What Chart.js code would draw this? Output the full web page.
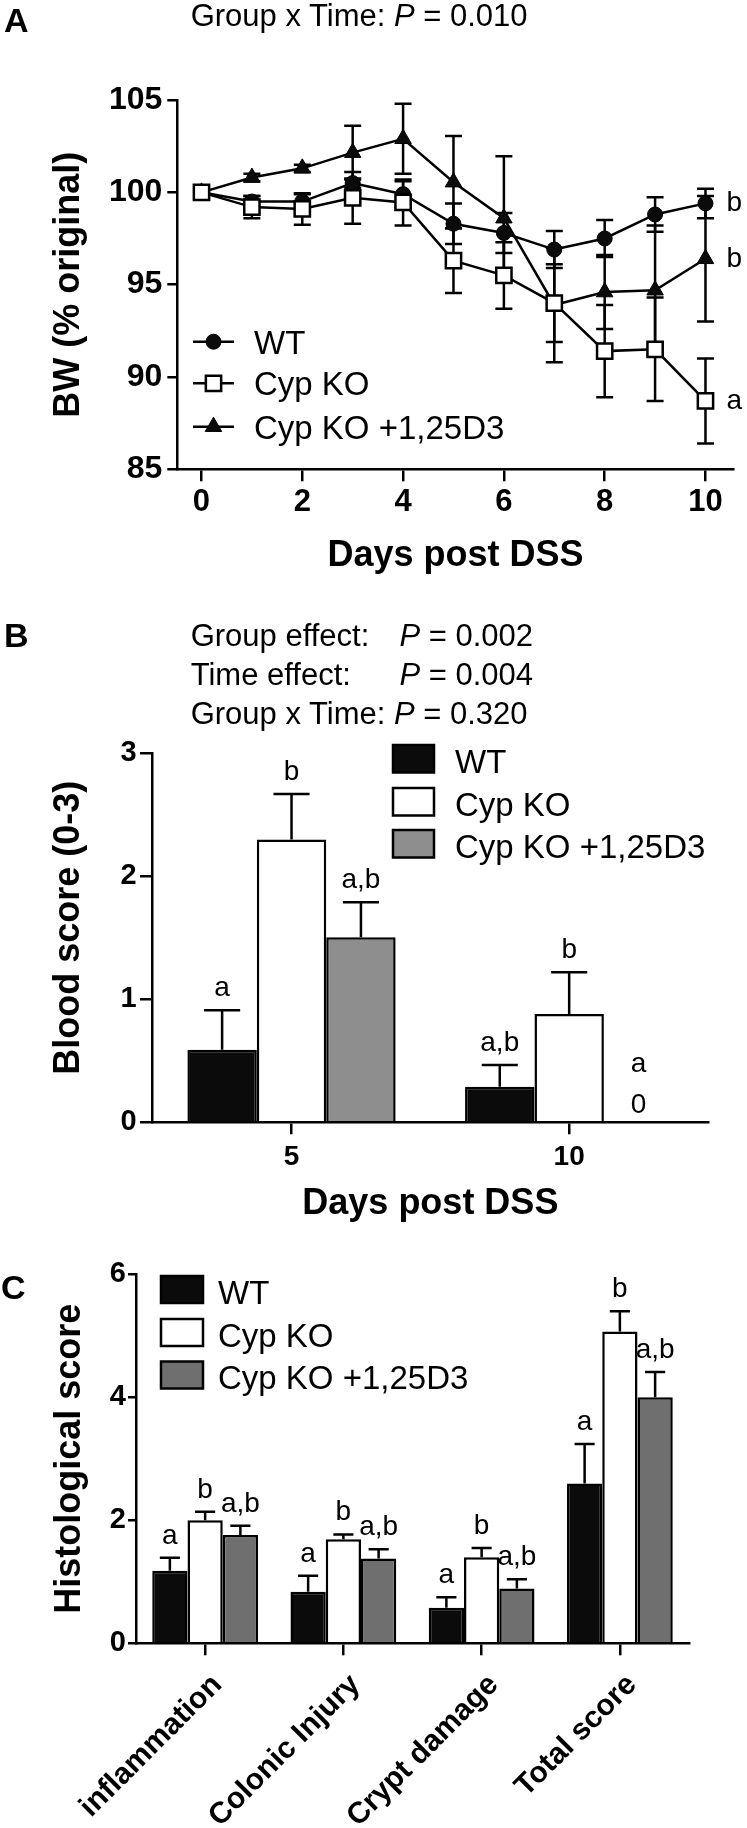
<!DOCTYPE html>
<html><head><meta charset="utf-8">
<script src="https://cdn.jsdelivr.net/npm/chart.js@4.4.1/dist/chart.umd.min.js"></script>
<style>
html,body{margin:0;padding:0;background:#fff;}
body{width:747px;height:1828px;position:relative;overflow:hidden;font-family:'Liberation Sans',Arial,Helvetica,sans-serif;color:#000;}
canvas{position:absolute;left:0;}
.t{position:absolute;white-space:pre;line-height:0;}
.pl{font-size:34px;font-weight:bold;}
.st{font-size:31px;}
</style></head><body>
<canvas id="cA" width="747" height="600" style="top:0px"></canvas>
<canvas id="cB" width="747" height="640" style="top:600px"></canvas>
<canvas id="cC" width="747" height="588" style="top:1240px"></canvas>

<div class="t pl" style="left:4px;top:20px">A</div>
<div class="t st" style="left:190.7px;top:16px">Group x Time: <i>P</i> = 0.010</div>

<div class="t pl" style="left:4px;top:635px">B</div>
<div class="t st" style="left:190.7px;top:636px">Group effect:</div>
<div class="t st" style="left:399.4px;top:636px"><i>P</i> = 0.002</div>
<div class="t st" style="left:190.7px;top:675.3px">Time effect:</div>
<div class="t st" style="left:399.4px;top:675.3px"><i>P</i> = 0.004</div>
<div class="t st" style="left:190.7px;top:714.3px">Group x Time: <i>P</i> = 0.320</div>

<div class="t pl" style="left:1px;top:1286.5px">C</div>

<script>
// ---------- DATA ----------
const groups = ['WT', 'Cyp KO', 'Cyp KO +1,25D3'];

// Panel A: body weight (% original)
const days = [0, 1, 2, 3, 4, 5, 6, 7, 8, 9, 10];
const bwWT     = [100, 99.5, 99.5, 100.5, 99.9, 98.3, 97.8, 96.9, 97.5, 98.8, 99.4];
const bwWTErr  = [0, 0.3, 0.4, 0.25, 0.7, 1.1, 1.08, 1.0, 1.0, 0.93, 0.8];
const bwKO     = [100, 99.2, 99.1, 99.7, 99.45, 96.3, 95.5, 94.0, 91.4, 91.5, 88.7];
const bwKOErr  = [0, 0.6, 0.85, 1.4, 1.25, 1.75, 1.8, 2.1, 2.5, 2.8, 2.3];
const bwD3     = [100, 100.8, 101.3, 102.15, 102.9, 100.55, 98.6, 93.9, 94.6, 94.7, 96.4];
const bwD3Err  = [0, 0.2, 0.2, 1.45, 1.9, 2.5, 3.35, 3.1, 2.0, 3.5, 3.4];
const bwLetters = ['b', 'a', 'b'];
const xTicksA = [0, 2, 4, 6, 8, 10];
const yTicksA = [85, 90, 95, 100, 105];

// Panel B: blood score
const daysB = ['5', '10'];
const bloodWT    = [0.59, 0.29];
const bloodWTErr = [0.32, 0.175];
const bloodKO    = [2.30, 0.88];
const bloodKOErr = [0.37, 0.34];
const bloodD3    = [1.505, 0];
const bloodD3Err = [0.285, 0];
const bloodLetWT = ['a', 'a,b'];
const bloodLetKO = ['b', 'b'];
const bloodLetD3 = ['a,b', 'a'];
const yTicksB = [0, 1, 2, 3];

// Panel C: histological score
const histCats = ['inflammation', 'Colonic Injury', 'Crypt damage', 'Total score'];
const histWT    = [1.18, 0.84, 0.58, 2.60];
const histWTErr = [0.21, 0.26, 0.17, 0.64];
const histKO    = [2.00, 1.69, 1.40, 5.07];
const histKOErr = [0.14, 0.08, 0.15, 0.33];
const histD3    = [1.76, 1.38, 0.89, 4.00];
const histD3Err = [0.15, 0.15, 0.15, 0.41];
const histLetWT = ['a', 'a', 'a', 'a'];
const histLetKO = ['b', 'b', 'b', 'b'];
const histLetD3 = ['a,b', 'a,b', 'a,b', 'a,b'];
const yTicksC = [0, 2, 4, 6];

// ---------- STYLE ----------
const FF = "'Liberation Sans', Arial, Helvetica, sans-serif";
Chart.defaults.font.family = FF;
Chart.defaults.color = '#000';
Chart.defaults.animation = false;
const BLACK = '#0b0b0b';
const LW = 2.5;
const LBL = '28px ' + FF;

function axisGrid(len) {
  return {display: true, drawOnChartArea: false, drawTicks: true, tickLength: len,
          tickWidth: LW, tickColor: '#000', color: '#000', lineWidth: LW, offset: false};
}
const axisBorder = {display: true, color: '#000', width: LW};

function drawMarker(ctx, style, r, x, y, fill) {
  ctx.save();
  ctx.fillStyle = fill; ctx.strokeStyle = '#000'; ctx.lineWidth = style === 'rect' ? LW : 1;
  ctx.beginPath();
  if (style === 'circle') { ctx.arc(x, y, r, 0, Math.PI * 2); }
  else if (style === 'rect') { const s = r * Math.SQRT1_2; ctx.rect(x - s, y - s, 2 * s, 2 * s); }
  else { ctx.moveTo(x, y - r); ctx.lineTo(x + r * 0.866, y + r * 0.5); ctx.lineTo(x - r * 0.866, y + r * 0.5); ctx.closePath(); }
  ctx.fill(); ctx.stroke();
  ctx.restore();
}

function drawText(ctx, text, x, y, font, align, rot) {
  ctx.save();
  ctx.font = font; ctx.fillStyle = '#000'; ctx.textAlign = align || 'left'; ctx.textBaseline = 'alphabetic';
  ctx.translate(x, y); if (rot) ctx.rotate(rot);
  ctx.fillText(text, 0, 0);
  ctx.restore();
}

// ---------- PANEL A ----------
const seriesA = [
  {vals: bwWT, err: bwWTErr, style: 'circle', r: 7.5, fill: BLACK},
  {vals: bwKO, err: bwKOErr, style: 'rect', r: 10.8, fill: '#fff'},
  {vals: bwD3, err: bwD3Err, style: 'triangle', r: 9.5, fill: BLACK}
];
const pluginA = {
  id: 'panelA',
  beforeDatasetsDraw(chart) {
    const {ctx, scales: {x, y}} = chart;
    ctx.save(); ctx.strokeStyle = '#000'; ctx.lineWidth = LW;
    seriesA.forEach(s => s.vals.forEach((v, i) => {
      const e = s.err[i]; if (!e) return;
      const px = x.getPixelForValue(days[i]);
      const y1 = y.getPixelForValue(v + e), y2 = y.getPixelForValue(v - e);
      ctx.beginPath();
      ctx.moveTo(px, y1); ctx.lineTo(px, y2);
      ctx.moveTo(px - 8.5, y1); ctx.lineTo(px + 8.5, y1);
      ctx.moveTo(px - 8.5, y2); ctx.lineTo(px + 8.5, y2);
      ctx.stroke();
    }));
    ctx.restore();
  },
  afterDraw(chart) {
    const {ctx, chartArea: ca} = chart;
    seriesA.forEach((s, k) => {
      const el = chart.getDatasetMeta(k).data[days.length - 1];
      drawText(ctx, bwLetters[k], el.x + 21, el.y + 8, LBL, 'left');
    });
    const rows = [341.7, 383.3, 426.7];
    seriesA.forEach((s, k) => {
      ctx.save(); ctx.strokeStyle = '#000'; ctx.lineWidth = LW;
      ctx.beginPath(); ctx.moveTo(193, rows[k]); ctx.lineTo(234, rows[k]); ctx.stroke(); ctx.restore();
      drawMarker(ctx, s.style, s.r, 213.5, rows[k], s.fill);
      drawText(ctx, groups[k], 254, rows[k] + 11.8, '33px ' + FF, 'left');
    });
    drawText(ctx, 'BW (% original)', 79, (ca.top + ca.bottom) / 2, 'bold 36px ' + FF, 'center', -Math.PI / 2);
    drawText(ctx, 'Days post DSS', (ca.left + ca.right) / 2, 566, 'bold 36px ' + FF, 'center');
  }
};
const mkXY = vals => vals.map((v, i) => ({x: days[i], y: v}));
new Chart(document.getElementById('cA'), {
  type: 'line',
  data: {datasets: seriesA.map((s, k) => ({
    label: groups[k], data: mkXY(s.vals), order: [1, 0, 2][k],
    borderColor: '#000', borderWidth: LW, tension: 0, fill: false,
    pointStyle: s.style, pointRadius: s.r, pointBackgroundColor: s.fill,
    pointBorderColor: '#000', pointBorderWidth: s.style === 'rect' ? LW : 1
  }))},
  options: {
    responsive: false, animation: false,
    layout: {padding: {left: 0, top: 100, right: 12, bottom: 0}},
    plugins: {legend: {display: false}, tooltip: {enabled: false}},
    scales: {
      x: {type: 'linear', min: -0.48, max: 10.56,
          afterBuildTicks: s => { s.ticks = xTicksA.map(v => ({value: v})); },
          afterFit: s => { s.height = 130.7; },
          grid: axisGrid(12), border: axisBorder,
          ticks: {font: {size: 31, weight: 'bold'}, padding: 3, color: '#000'}},
      y: {min: 85, max: 105,
          afterBuildTicks: s => { s.ticks = yTicksA.map(v => ({value: v})); },
          afterFit: s => { s.width = 177.3; },
          grid: axisGrid(10), border: axisBorder,
          ticks: {font: {size: 32, weight: 'bold'}, padding: 5, color: '#000'}}
    }
  },
  plugins: [pluginA]
});

// ---------- BAR PANELS ----------
function barPlugin(cfg) {
  return {
    id: 'bars' + cfg.key,
    afterDatasetsDraw(chart) {
      const {ctx, scales: {y}} = chart;
      cfg.errs.forEach((errArr, k) => {
        const meta = chart.getDatasetMeta(k);
        meta.data.forEach((el, i) => {
          const v = cfg.vals[k][i], e = errArr[i];
          const top = y.getPixelForValue(v + e);
          if (e > 0) {
            const hw = el.width * cfg.capFrac / 2;
            ctx.save(); ctx.strokeStyle = '#000'; ctx.lineWidth = LW;
            ctx.beginPath();
            ctx.moveTo(el.x, el.y); ctx.lineTo(el.x, top);
            ctx.moveTo(el.x - hw, top); ctx.lineTo(el.x + hw, top);
            ctx.stroke(); ctx.restore();
          }
          if (v === 0) {
            drawText(ctx, '0', el.x, y.getPixelForValue(0) - 9, LBL, 'center');
            drawText(ctx, cfg.letters[k][i], el.x, y.getPixelForValue(0) - 50, LBL, 'center');
          } else {
            drawText(ctx, cfg.letters[k][i], el.x, top - 14, LBL, 'center');
          }
        });
      });
    },
    afterDraw(chart) {
      const {ctx, chartArea: ca} = chart;
      cfg.legend.tops.forEach((t, k) => {
        ctx.save();
        ctx.fillStyle = cfg.colors[k]; ctx.strokeStyle = '#000'; ctx.lineWidth = LW;
        ctx.fillRect(cfg.legend.x, t, cfg.legend.w, cfg.legend.h);
        ctx.strokeRect(cfg.legend.x, t, cfg.legend.w, cfg.legend.h);
        ctx.restore();
        drawText(ctx, groups[k], cfg.legend.tx, t + cfg.legend.h + 0.5, '33px ' + FF, 'left');
      });
      drawText(ctx, cfg.yTitle, cfg.yTitleX, (ca.top + ca.bottom) / 2 + (cfg.yTitleDy || 0), 'bold 36px ' + FF, 'center', -Math.PI / 2);
      if (cfg.xTitle) drawText(ctx, cfg.xTitle, (ca.left + ca.right) / 2, cfg.xTitleY, 'bold 36px ' + FF, 'center');
      if (cfg.rotLabels) {
        const xs = chart.scales.x;
        chart.data.labels.forEach((lab, i) => {
          const px = xs.getPixelForTick(i);
          drawText(ctx, lab, px + cfg.rotLabels.dx, ca.bottom + cfg.rotLabels.dy, 'bold 30px ' + FF, 'right', -Math.PI / 4);
        });
      }
    }
  };
}

function barChart(id, labels, vals, colors, catPct, pad, yW, xH, yMax, yTicks, tickCfg, plugin) {
  const xScale = {afterFit: s => { s.height = xH; }, grid: axisGrid(tickCfg.xLen), border: axisBorder,
    ticks: {display: tickCfg.xShow, font: {size: 28, weight: 'bold'}, padding: tickCfg.xPad, color: '#000', autoSkip: false, maxRotation: 0}};
  return new Chart(document.getElementById(id), {
    type: 'bar',
    data: {labels: labels, datasets: vals.map((v, k) => ({
      label: groups[k], data: v, backgroundColor: colors[k], borderColor: '#000',
      borderWidth: LW, categoryPercentage: catPct, barPercentage: 1.0
    }))},
    options: {
      responsive: false, animation: false,
      layout: {padding: pad},
      plugins: {legend: {display: false}, tooltip: {enabled: false}},
      scales: {
        x: xScale,
        y: {min: 0, max: yMax,
            afterBuildTicks: s => { s.ticks = yTicks.map(v => ({value: v})); },
            afterFit: s => { s.width = yW; }, grid: axisGrid(tickCfg.yLen), border: axisBorder,
            ticks: {font: {size: 29, weight: 'bold'}, padding: tickCfg.yPad, color: '#000'}}
      }
    },
    plugins: [plugin]
  });
}

const colorsB = [BLACK, '#ffffff', '#8e8e8e'];
barChart('cB', daysB, [bloodWT, bloodKO, bloodD3], colorsB, 0.75,
  {left: 0, top: 153.3, right: 39, bottom: 0}, 152.7, 117.7, 3, yTicksB,
  {xLen: 12, xPad: 6, yLen: 12.7, yPad: 3.3, xShow: true},
  barPlugin({key: 'B', vals: [bloodWT, bloodKO, bloodD3], errs: [bloodWTErr, bloodKOErr, bloodD3Err],
    letters: [bloodLetWT, bloodLetKO, bloodLetD3], capFrac: 0.52, colors: colorsB,
    legend: {x: 393, w: 41, h: 27.5, tx: 455, tops: [145, 188, 230]},
    yTitle: 'Blood score (0-3)', yTitleX: 79, yTitleDy: -10, xTitle: 'Days post DSS', xTitleY: 614}));

const colorsC = [BLACK, '#ffffff', '#6f6f6f'];
barChart('cC', histCats, [histWT, histKO, histD3], colorsC, 0.765,
  {left: 0, top: 34.3, right: 58, bottom: 0}, 136, 184.7, 6, yTicksC,
  {xLen: 12, xPad: 4, yLen: 8, yPad: 2, xShow: false},
  barPlugin({key: 'C', vals: [histWT, histKO, histD3], errs: [histWTErr, histKOErr, histD3Err],
    letters: [histLetWT, histLetKO, histLetD3], capFrac: 0.57, colors: colorsC,
    legend: {x: 161, w: 42, h: 27, tx: 218, tops: [36, 79, 121.5]},
    yTitle: 'Histological score', yTitleX: 80, rotLabels: {dx: 18, dy: 42.7}}));
</script>
</body></html>
